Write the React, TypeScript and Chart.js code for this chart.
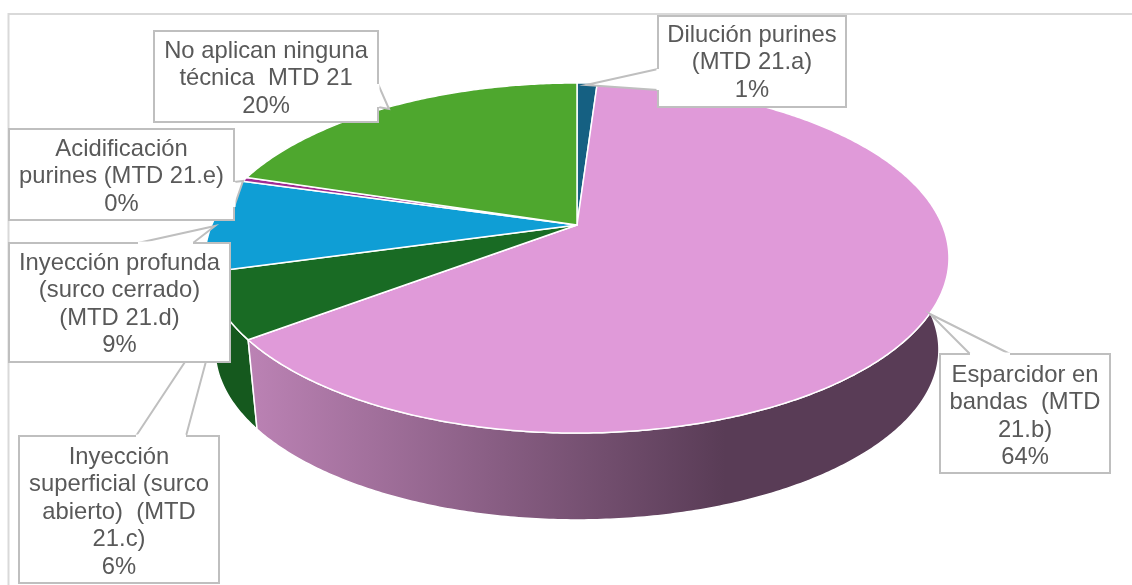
import React, { useEffect, useRef } from "react";
import { Chart, registerables } from "chart.js";

Chart.register(...registerables);

const categories = [
  "Dilución purines (MTD 21.a)",
  "Esparcidor en bandas (MTD 21.b)",
  "Inyección superficial (surco abierto) (MTD 21.c)",
  "Inyección profunda (surco cerrado) (MTD 21.d)",
  "Acidificación purines (MTD 21.e)",
  "No aplican ninguna técnica MTD 21",
];
const shares = [1.05, 63.65, 6.0, 8.7, 0.4, 20.2];
const sliceColors = ["#156082", "#e09ad9", "#196b24", "#0f9ed5", "#a02b93", "#4ea72e"];
const wallColors = ["#0f4660", "#593c56", "#15591e", "#0b769f", "#701f67", "#3a7d22"];

const labelLines = [
  ["Dilución purines", "(MTD 21.a)", "1%"],
  ["Esparcidor en", "bandas  (MTD", "21.b)", "64%"],
  ["Inyección", "superficial (surco", "abierto)  (MTD", "21.c)", "6%"],
  ["Inyección profunda", "(surco cerrado)", "(MTD 21.d)", "9%"],
  ["Acidificación", "purines (MTD 21.e)", "0%"],
  ["No aplican ninguna", "técnica  MTD 21", "20%"],
];

// box: x0, y0, x1, y1; callout: base A, tip, base B
const boxes = [
  { b: [658, 16, 846, 107], c: [[658, 69], [586, 85], [658, 90]], ty: 35 },
  { b: [940, 354, 1110, 473], c: [[970, 354], [930, 314], [1010, 354]], ty: 375 },
  { b: [19, 436, 219, 583], c: [[136, 436], [220, 309], [186, 436]], ty: 457 },
  { b: [9, 243, 230, 362], c: [[138, 243], [215, 226], [193, 243]], ty: 263 },
  { b: [9, 129, 234, 220], c: [[234, 182], [243, 181], [234, 207]], ty: 149 },
  { b: [154, 31, 378, 122], c: [[378, 84], [389, 109], [378, 107]], ty: 51 },
];
const drawOrder = [2, 3, 4, 5, 0, 1];

// Perspective of the pie's plane
const CX = 577, APEX_Y = 225, QX = 365.3, PY = 168.8, K = 0.1886;
const FLOOR_Y = 317.5, FLOOR_S = 0.973;

const top = (a: number): [number, number] => {
  const u = Math.cos(a), v = Math.sin(a), d = 1 - K * v;
  return [CX + (QX * u) / d, APEX_Y + (PY * v) / d];
};
const floor = (a: number): [number, number] => {
  const u = Math.cos(a), v = Math.sin(a), d = 1 - K * v;
  return [CX + (FLOOR_S * QX * u) / d, FLOOR_Y + (FLOOR_S * PY * v) / d];
};
const sweep = (s: number, e: number) => {
  const n = Math.max(2, Math.ceil((e - s) / 0.01));
  return Array.from({ length: n + 1 }, (_, i) => s + ((e - s) * i) / n);
};

const pie3d = {
  id: "pie3d",
  beforeDraw(chart: any) {
    const { ctx, width, height } = chart;
    ctx.save();
    ctx.fillStyle = "#ffffff";
    ctx.fillRect(0, 0, width, height);
    ctx.strokeStyle = "#d9d9d9";
    ctx.lineWidth = 2;
    ctx.beginPath();
    ctx.moveTo(8.5, height);
    ctx.lineTo(8.5, 14);
    ctx.lineTo(width, 14);
    ctx.stroke();
    ctx.restore();
  },
  beforeDatasetDraw(chart: any) {
    const { ctx } = chart;
    const arcs = chart.getDatasetMeta(0).data;
    ctx.save();
    ctx.lineJoin = "round";
    ctx.strokeStyle = "#ffffff";
    ctx.lineWidth = 1.5;
    // side wall, back slices first
    [5, 4, 0, 3, 2, 1].forEach((i) => {
      const { startAngle, endAngle } = arcs[i];
      const pts = sweep(startAngle, endAngle);
      ctx.beginPath();
      pts.forEach((a, k) => {
        const p = top(a);
        k ? ctx.lineTo(p[0], p[1]) : ctx.moveTo(p[0], p[1]);
      });
      [...pts].reverse().forEach((a) => {
        const p = floor(a);
        ctx.lineTo(p[0], p[1]);
      });
      ctx.closePath();
      if (i === 1) {
        const g = ctx.createLinearGradient(250, 0, 725, 0);
        g.addColorStop(0, "#bb82b4");
        g.addColorStop(1, wallColors[1]);
        ctx.fillStyle = g;
      } else {
        ctx.fillStyle = wallColors[i];
      }
      ctx.fill();
      ctx.stroke();
    });
    // upper face
    arcs.forEach((arc: any, i: number) => {
      ctx.beginPath();
      ctx.moveTo(CX, APEX_Y);
      sweep(arc.startAngle, arc.endAngle).forEach((a) => {
        const p = top(a);
        ctx.lineTo(p[0], p[1]);
      });
      ctx.closePath();
      ctx.fillStyle = sliceColors[i];
      ctx.fill();
      ctx.stroke();
    });
    ctx.restore();
    return false;
  },
  afterDatasetsDraw(chart: any) {
    const { ctx } = chart;
    ctx.save();
    ctx.textAlign = "center";
    ctx.textBaseline = "middle";
    ctx.font = '23.8px "Liberation Sans", Arial, sans-serif';
    drawOrder.forEach((i) => {
      const { b, c, ty } = boxes[i];
      const [x0, y0, x1, y1] = b;
      ctx.beginPath();
      ctx.rect(x0, y0, x1 - x0, y1 - y0);
      ctx.fillStyle = "#ffffff";
      ctx.fill();
      ctx.beginPath();
      ctx.moveTo(c[0][0], c[0][1]);
      ctx.lineTo(c[1][0], c[1][1]);
      ctx.lineTo(c[2][0], c[2][1]);
      ctx.closePath();
      ctx.fill();
      ctx.strokeStyle = "#bfbfbf";
      ctx.lineWidth = 2;
      ctx.beginPath();
      ctx.moveTo(c[0][0], c[0][1]);
      ctx.lineTo(c[1][0], c[1][1]);
      ctx.lineTo(c[2][0], c[2][1]);
      ctx.stroke();
      ctx.strokeRect(x0, y0, x1 - x0, y1 - y0);
      // open the box edge under the callout
      ctx.strokeStyle = "#ffffff";
      ctx.lineWidth = 3;
      ctx.beginPath();
      ctx.moveTo(c[0][0], c[0][1]);
      ctx.lineTo(c[2][0], c[2][1]);
      ctx.stroke();
      ctx.fillStyle = "#595959";
      labelLines[i].forEach((t, k) => {
        ctx.fillText(t, (x0 + x1) / 2, ty + k * 27.5);
      });
    });
    ctx.restore();
  },
};

export default function App() {
  const ref = useRef<HTMLCanvasElement>(null);
  useEffect(() => {
    const chart = new Chart(ref.current!, {
      type: "pie",
      data: {
        labels: categories,
        datasets: [{ data: shares, backgroundColor: sliceColors }],
      },
      options: {
        animation: false,
        responsive: false,
        plugins: { legend: { display: false }, tooltip: { enabled: false } },
      },
      plugins: [pie3d],
    } as any);
    return () => chart.destroy();
  }, []);
  return (
    <canvas
      ref={ref}
      width={1132}
      height={585}
      style={{ position: "absolute", left: 0, top: 0, display: "block" }}
    />
  );
}
